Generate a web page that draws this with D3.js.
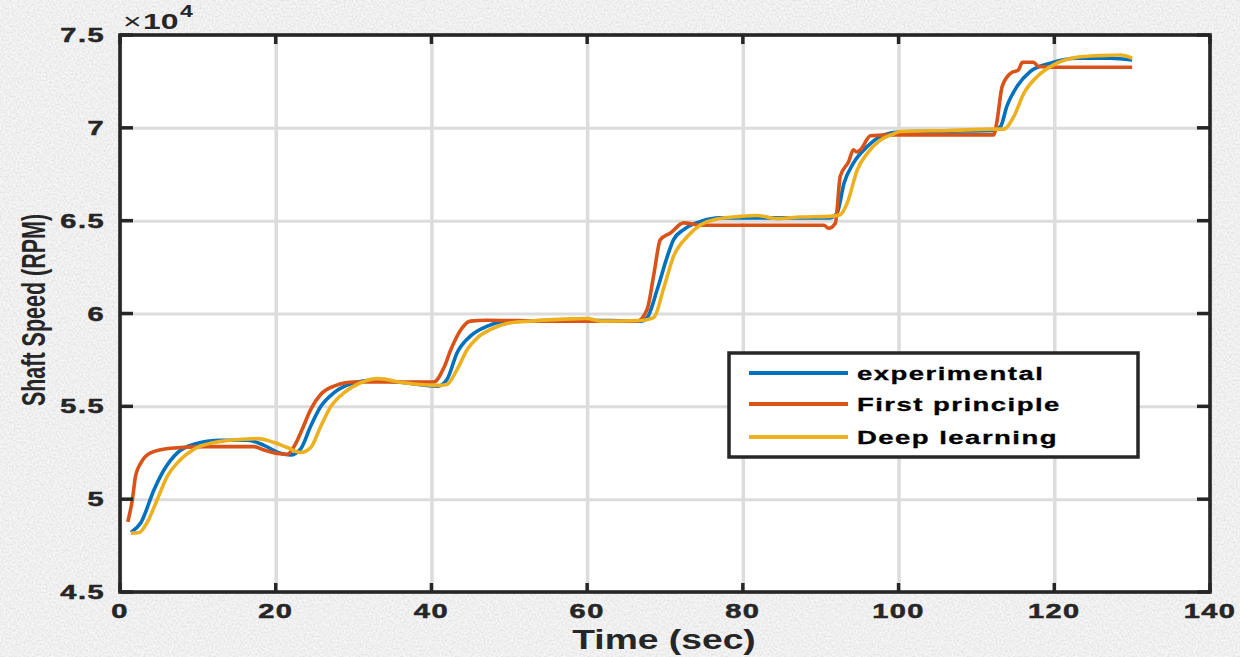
<!DOCTYPE html>
<html>
<head>
<meta charset="utf-8">
<script src="https://cdn.jsdelivr.net/npm/d3@7"></script>
<style>
  body { margin: 0; background: #e8e8e8; }
  svg { display: block; font-family: "Liberation Sans", Arial, sans-serif; }
</style>
</head>
<body>
<svg id="chart"></svg>
<script>
// tick values
var xTicks = [0, 20, 40, 60, 80, 100, 120, 140];
var yTicks = [45000, 50000, 55000, 60000, 65000, 70000, 75000];

var seriesNames = ["experimental", "First principle", "Deep learning"];
var seriesColors = ["#0072BD", "#D95319", "#EDB120"];

// [time (sec), shaft speed (RPM)]
var experimental = [
  [1.4, 48210], [2.7, 48750], [4.4, 50540], [5.7, 51610], [7.4, 52510], [9.5, 52960],
  [12.9, 53170], [16.4, 53170], [18.5, 52900], [20.6, 52470], [21.9, 52380], [23.2, 52700],
  [24.5, 53940], [25.8, 55000], [27.5, 55740], [30.1, 56270], [32.6, 56410], [36.5, 56270],
  [40.8, 56090], [42.0, 56450], [43.3, 57890], [45.0, 58780], [47.2, 59320], [49.7, 59590],
  [54.9, 59620], [59.2, 59640], [66.9, 59590], [67.7, 59770], [69.0, 61290], [70.3, 63080],
  [71.1, 63980], [72.4, 64520], [74.6, 64960], [77.1, 65150], [83.1, 65150], [91.2, 65150],
  [92.1, 65410], [93.0, 67030], [94.2, 68100], [96.0, 69000], [98.1, 69620], [100.2, 69780],
  [106.5, 69820], [112.2, 69860], [113.1, 70070], [113.9, 71150], [115.2, 72220], [116.9, 73030],
  [119.5, 73480], [122.9, 73750], [127.2, 73750], [130.0, 73660]
];

var firstPrinciple = [
  [1.0, 48780], [1.6, 50000], [2.0, 51250], [2.7, 51970], [4.0, 52510], [6.5, 52740],
  [10.8, 52830], [17.2, 52830], [18.5, 52650], [20.2, 52460], [21.5, 52420], [22.4, 52870],
  [23.4, 53760], [24.5, 54840], [25.8, 55650], [27.5, 56090], [30.1, 56310], [34.3, 56310],
  [40.3, 56310], [41.6, 57080], [42.5, 58060], [43.8, 59140], [45.0, 59590], [47.2, 59640],
  [54.9, 59590], [66.4, 59590], [67.7, 60220], [68.6, 62190], [69.4, 63980], [70.7, 64340],
  [72.4, 64880], [74.6, 64750], [83.1, 64750], [90.4, 64750], [91.0, 64590], [91.9, 64880],
  [92.1, 65590], [92.5, 67380], [93.6, 68190], [94.2, 68820], [94.6, 68700], [95.1, 68820],
  [96.4, 69570], [99.4, 69620], [100.2, 69620], [112.2, 69620], [112.6, 70250], [113.3, 72220],
  [114.4, 72940], [115.4, 73120], [115.9, 73530], [117.3, 73530], [118.0, 73300], [119.9, 73260],
  [130.0, 73260]
];

var deepLearning = [
  [1.4, 48170], [2.5, 48210], [3.5, 48750], [4.8, 50000], [6.1, 51250], [7.4, 51970],
  [9.5, 52690], [12.1, 53050], [15.9, 53230], [17.7, 53260], [19.8, 53050], [21.5, 52780],
  [23.2, 52510], [24.5, 52780], [25.8, 53940], [27.1, 55000], [28.8, 55740], [30.9, 56270],
  [33.1, 56490], [36.5, 56270], [40.8, 56130], [42.0, 56180], [43.3, 56990], [44.6, 58060],
  [45.9, 58690], [47.6, 59140], [49.7, 59460], [52.7, 59590], [57.9, 59710], [60.0, 59730],
  [61.7, 59590], [66.9, 59620], [68.1, 59710], [68.6, 59800], [69.9, 61470], [71.1, 63080],
  [72.9, 64160], [74.6, 64780], [76.7, 65090], [79.7, 65230], [81.8, 65280], [84.4, 65110],
  [87.4, 65200], [91.2, 65230], [92.5, 65320], [93.4, 65950], [94.7, 67740], [96.0, 68640],
  [97.7, 69350], [99.4, 69680], [100.2, 69800], [106.6, 69860], [112.2, 69930], [113.5, 69930],
  [114.8, 70610], [116.1, 71870], [117.8, 72760], [119.9, 73390], [122.9, 73800], [125.9, 73890],
  [128.5, 73920], [130.0, 73750]
];

var allSeries = [experimental, firstPrinciple, deepLearning];

var drawChart = function(target)
{
    var screen = {width:1240, height:657};
    var margins = {top:35, bottom:65, left:120, right:30};
    var graph = {
        width: screen.width - margins.left - margins.right,
        height: screen.height - margins.top - margins.bottom
    };

    var svg = d3.select(target)
        .attr("width", screen.width)
        .attr("height", screen.height);

    // grey mottled backdrop
    var defs = svg.append("defs");
    var noise = defs.append("filter").attr("id", "grain")
        .attr("x", 0).attr("y", 0).attr("width", "100%").attr("height", "100%");
    noise.append("feTurbulence")
        .attr("type", "fractalNoise")
        .attr("baseFrequency", 0.5)
        .attr("numOctaves", 3)
        .attr("seed", 7);
    noise.append("feColorMatrix")
        .attr("type", "matrix")
        .attr("values", "0.55 0 0 0 0.62  0.55 0 0 0 0.62  0.55 0 0 0 0.62  0 0 0 0 1");

    svg.append("rect")
        .attr("width", screen.width).attr("height", screen.height)
        .attr("fill", "#ebebeb");
    svg.append("rect")
        .attr("width", screen.width).attr("height", screen.height)
        .attr("filter", "url(#grain)")
        .attr("opacity", 0.6);

    var xScale = d3.scaleLinear()
        .domain([0, 140])
        .range([0, graph.width]);
    var yScale = d3.scaleLinear()
        .domain([45000, 75000])
        .range([graph.height, 0]);

    var g = svg.append("g")
        .attr("transform", "translate(" + margins.left + "," + margins.top + ")");

    // plot background
    g.append("rect")
        .attr("width", graph.width).attr("height", graph.height)
        .attr("fill", "#ffffff");

    // grid lines
    g.append("g")
        .call(d3.axisBottom(xScale).tickValues(xTicks).tickSize(graph.height).tickFormat(""))
        .call(function(a) { a.select(".domain").remove(); })
        .selectAll("line")
        .attr("stroke", "#dcdcdc")
        .attr("stroke-width", 3.5);
    g.append("g")
        .call(d3.axisLeft(yScale).tickValues(yTicks).tickSize(-graph.width).tickFormat(""))
        .call(function(a) { a.select(".domain").remove(); })
        .selectAll("line")
        .attr("stroke", "#dcdcdc")
        .attr("stroke-width", 3);

    // the three curves
    var line = d3.line()
        .x(function(d) { return xScale(d[0]); })
        .y(function(d) { return yScale(d[1]); })
        .curve(d3.curveMonotoneX);

    g.append("g").selectAll("path")
        .data(allSeries)
        .enter()
        .append("path")
        .attr("d", line)
        .attr("fill", "none")
        .attr("stroke", function(d, i) { return seriesColors[i]; })
        .attr("stroke-width", 3.6)
        .attr("stroke-linejoin", "round");

    // inward ticks on all four sides
    var axisColor = "#262626";
    var ticks = g.append("g").attr("stroke", axisColor).attr("stroke-width", 3.5);
    xTicks.forEach(function(t)
    {
        ticks.append("line").attr("x1", xScale(t)).attr("x2", xScale(t))
            .attr("y1", graph.height).attr("y2", graph.height - 9);
        ticks.append("line").attr("x1", xScale(t)).attr("x2", xScale(t))
            .attr("y1", 0).attr("y2", 9);
    });
    yTicks.forEach(function(t)
    {
        ticks.append("line").attr("y1", yScale(t)).attr("y2", yScale(t))
            .attr("x1", 0).attr("x2", 13);
        ticks.append("line").attr("y1", yScale(t)).attr("y2", yScale(t))
            .attr("x1", graph.width).attr("x2", graph.width - 13);
    });

    // box
    g.append("rect")
        .attr("width", graph.width).attr("height", graph.height)
        .attr("fill", "none")
        .attr("stroke", axisColor)
        .attr("stroke-width", 3.6);

    // tick labels (the picture is stretched sideways, so text is widened)
    var stretch = 1.45;
    g.append("g").selectAll("text")
        .data(xTicks)
        .enter()
        .append("text")
        .attr("transform", function(d) { return "translate(" + xScale(d) + "," + (graph.height + 26) + ") scale(" + stretch + ",1)"; })
        .attr("text-anchor", "middle")
        .attr("font-size", 20)
        .attr("font-weight", "bold")
        .attr("letter-spacing", 1)
        .attr("fill", "#262626")
        .attr("stroke", "#262626")
        .attr("stroke-width", 0.5)
        .text(function(d) { return d; });

    g.append("g").selectAll("text")
        .data(yTicks)
        .enter()
        .append("text")
        .attr("transform", function(d) { return "translate(-15," + (yScale(d) + 7) + ") scale(" + stretch + ",1)"; })
        .attr("text-anchor", "end")
        .attr("font-size", 20)
        .attr("font-weight", "bold")
        .attr("letter-spacing", 1)
        .attr("fill", "#262626")
        .attr("stroke", "#262626")
        .attr("stroke-width", 0.5)
        .text(function(d) { return d3.format("")(d / 10000); });

    // exponent label
    var expo = svg.append("text")
        .attr("transform", "translate(123,29) scale(1.45,1)")
        .attr("font-size", 22)
        .attr("fill", "#262626");
    expo.append("tspan").attr("font-weight", "normal").text("\u00d7");
    expo.append("tspan").attr("font-weight", "bold").attr("dx", 1).text("10");
    expo.append("tspan").attr("font-weight", "bold").attr("font-size", 16)
        .attr("dy", -12).attr("dx", 1).text("4");

    // axis titles
    svg.append("text")
        .attr("transform", "translate(664,649) scale(1.33,1)")
        .attr("text-anchor", "middle")
        .attr("font-size", 28)
        .attr("font-weight", "bold")
        .attr("fill", "#262626")
        .text("Time (sec)");

    svg.append("text")
        .attr("transform", "translate(45,310) scale(1.55,1) rotate(-90)")
        .attr("text-anchor", "middle")
        .attr("font-size", 21.5)
        .attr("font-weight", "bold")
        .attr("fill", "#262626")
        .text("Shaft Speed (RPM)");

    // legend
    var legend = svg.append("g").attr("transform", "translate(729,353)");
    legend.append("rect")
        .attr("width", 409).attr("height", 104)
        .attr("fill", "#ffffff")
        .attr("stroke", axisColor)
        .attr("stroke-width", 3.5);
    var rows = legend.selectAll("g.row")
        .data(seriesNames)
        .enter()
        .append("g")
        .attr("class", "row")
        .attr("transform", function(d, i) { return "translate(0," + [20, 51, 84][i] + ")"; });
    rows.append("line")
        .attr("x1", 20).attr("x2", 119)
        .attr("stroke", function(d, i) { return seriesColors[i]; })
        .attr("stroke-width", 4);
    rows.append("text")
        .attr("transform", "translate(128,7) scale(1.45,1)")
        .attr("font-size", 19)
        .attr("font-weight", "bold")
        .attr("letter-spacing", 1)
        .attr("fill", "#000000")
        .attr("stroke", "#000000")
        .attr("stroke-width", 0.3)
        .text(function(d) { return d; });
};

drawChart("#chart");
</script>
</body>
</html>
